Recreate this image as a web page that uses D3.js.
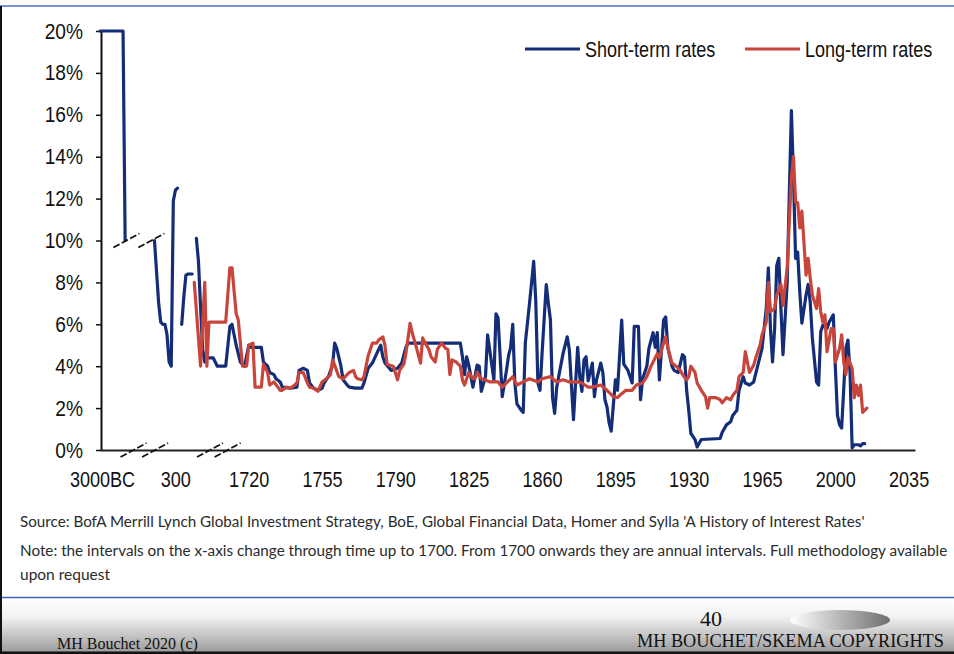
<!DOCTYPE html>
<html>
<head>
<meta charset="utf-8">
<script src="https://cdn.jsdelivr.net/npm/d3@7/dist/d3.min.js"></script>
<style>
  html, body { margin: 0; padding: 0; background: #fff; }
  svg { display: block; }
</style>
</head>
<body>
<svg id="chart" width="954" height="654"></svg>
<script>
// ---- Data -------------------------------------------------------------
// Category axis: the first 50 slots hold the pre-1700 periods (uneven
// intervals), then one slot per year from 1700 onwards.
const FIRST_YEAR = 1700;
const FIRST_YEAR_SLOT = 50;
const LAST_SLOT = 389;
const LABEL_STEP = 35;
const tickLabels = ["3000BC", "300", "1720", "1755", "1790", "1825", "1860",
                    "1895", "1930", "1965", "2000", "2035"];
const yTicks = [0, 2, 4, 6, 8, 10, 12, 14, 16, 18, 20];

// Pre-1700 periods: [slot, rate %]; null marks a gap in the series.
const ancientShort = [
  [0, 20], [11, 20], [12, 10], null,
  [26, 10], [27, 8.5], [28, 7], [29, 6.1], [30, 6.0], [31, 6.0], [32, 5.5],
  [33, 4.2], [34, 4.0], [35, 11.9], [36, 12.4], [37, 12.5], null,
  [39, 6.0], [40, 7.3], [41, 8.35], [42, 8.4], [44, 8.4], null,
  [46, 10.1], [47, 9.0], [48, 6.8], [49, 4.8]
];
const ancientLong = [[45, 8.0], [48, 4.0]];

// Annual observations from 1700: [year, rate %]
const shortRates = [
  [1700,4.2],[1701,4.4],[1704,4.4],[1706,4.0],[1710,4.0],[1712,5.9],[1713,6.0],
  [1715,5.0],[1717,4.2],[1719,4.0],[1721,5.0],[1722,4.9],[1727,4.9],[1728,4.2],
  [1730,4.0],[1731,3.7],[1733,3.6],[1734,3.4],[1736,3.25],[1737,3.0],[1741,2.95],
  [1744,3.0],[1745,3.8],[1747,3.9],[1749,3.8],[1750,3.2],[1752,2.95],[1754,2.85],
  [1756,2.95],[1757,3.2],[1759,3.5],[1761,4.05],[1762,5.1],[1763,4.85],[1765,4.0],
  [1766,3.35],[1768,3.1],[1769,3.0],[1772,2.95],[1775,2.95],[1776,3.2],[1778,3.9],
  [1780,4.15],[1783,4.8],[1784,5.0],[1785,4.45],[1786,4.15],[1789,3.8],[1792,3.9],
  [1794,4.15],[1796,4.9],[1797,5.1],[1822,5.1],[1823,4.45],[1824,3.6],[1825,4.45],
  [1826,4.05],[1828,3.0],[1830,4.05],[1831,4.0],[1832,2.8],[1834,3.5],[1835,5.5],
  [1836,4.8],[1838,3.35],[1839,6.5],[1840,6.3],[1842,2.55],[1844,3.8],[1845,4.5],
  [1846,4.9],[1847,6.0],[1848,3.2],[1849,2.2],[1851,1.9],[1852,1.8],[1853,5.1],
  [1855,7.0],[1856,8.0],[1857,9.0],[1858,7.1],[1859,3.2],[1860,2.85],[1861,4.6],
  [1863,7.9],[1864,7.0],[1865,6.2],[1866,2.5],[1867,1.75],[1868,3.0],[1871,4.6],
  [1872,5.0],[1873,5.4],[1874,4.8],[1876,1.45],[1877,3.2],[1878,4.9],[1879,3.5],
  [1880,2.8],[1881,4.3],[1882,4.45],[1883,3.3],[1885,4.15],[1886,2.55],[1887,3.35],
  [1889,4.15],[1890,3.7],[1891,2.4],[1892,2.05],[1893,1.3],[1894,0.9],[1896,3.35],
  [1897,2.85],[1898,4.5],[1899,6.2],[1900,4.1],[1902,3.8],[1904,3.2],[1905,5.9],
  [1907,5.9],[1908,2.4],[1909,3.4],[1911,4.0],[1912,4.85],[1914,5.6],[1915,4.9],
  [1916,5.6],[1917,3.35],[1919,6.2],[1920,6.35],[1921,4.9],[1923,4.0],[1924,3.8],
  [1926,3.7],[1928,4.55],[1929,4.45],[1930,2.85],[1931,1.9],[1932,0.8],[1934,0.5],
  [1935,0.15],[1937,0.5],[1946,0.55],[1947,0.85],[1949,1.2],[1951,1.35],[1952,1.65],
  [1954,1.9],[1955,2.85],[1957,3.5],[1958,3.2],[1960,3.1],[1962,3.25],[1964,4.05],
  [1966,4.85],[1967,5.8],[1968,6.75],[1969,8.7],[1970,5.8],[1971,4.2],[1972,5.8],
  [1973,8.8],[1974,9.15],[1975,6.75],[1976,4.55],[1978,8.0],[1979,12.2],[1980,16.2],
  [1981,13.0],[1982,9.15],[1983,9.45],[1984,7.55],[1985,6.05],[1987,7.4],[1988,7.9],
  [1989,7.05],[1990,5.35],[1992,3.25],[1993,3.1],[1994,5.65],[1995,5.95],[1997,5.8],
  [1998,6.1],[2000,6.45],[2001,3.9],[2002,1.65],[2003,1.2],[2004,1.05],[2006,4.85],
  [2007,5.25],[2008,3.7],[2009,0.1],[2010,0.25],[2012,0.25],[2013,0.2],[2014,0.3],
  [2015,0.3]
];

const longRates = [
  [1700,8.0],[1701,4.0],[1702,6.1],[1710,6.1],[1712,8.7],[1713,8.7],[1715,6.5],
  [1716,6.2],[1718,4.0],[1720,4.0],[1721,5.0],[1723,5.1],[1724,3.0],[1727,3.0],
  [1728,4.1],[1730,3.7],[1731,3.1],[1733,3.25],[1736,2.85],[1737,2.85],[1739,3.0],
  [1741,2.95],[1744,3.2],[1745,3.7],[1747,3.7],[1749,3.2],[1750,3.0],[1752,2.95],
  [1754,2.8],[1756,3.25],[1758,3.4],[1760,3.6],[1761,4.3],[1762,4.05],[1764,3.5],
  [1766,3.4],[1769,3.7],[1771,3.8],[1772,3.5],[1773,3.4],[1775,3.35],[1776,3.5],
  [1778,4.5],[1779,4.8],[1780,5.1],[1782,5.1],[1783,5.25],[1785,5.4],[1786,5.0],
  [1787,4.1],[1788,4.05],[1790,4.0],[1792,3.35],[1793,3.8],[1795,4.1],[1796,4.6],
  [1798,6.05],[1799,5.6],[1801,4.9],[1803,4.15],[1804,5.35],[1805,5.15],[1807,4.8],
  [1808,4.45],[1810,4.2],[1811,4.8],[1813,5.1],[1815,4.85],[1816,4.8],[1817,3.6],
  [1818,4.3],[1820,4.2],[1822,4.0],[1823,3.35],[1824,3.1],[1826,3.7],[1828,3.4],
  [1829,3.4],[1830,3.7],[1832,3.4],[1834,3.35],[1836,3.25],[1840,3.25],[1842,3.0],
  [1844,3.2],[1847,3.5],[1849,3.1],[1852,3.25],[1855,3.4],[1859,3.25],[1861,3.4],
  [1865,3.5],[1868,3.25],[1871,3.35],[1874,3.25],[1878,3.25],[1880,3.2],[1883,3.0],
  [1885,3.0],[1889,3.1],[1892,2.85],[1895,2.55],[1897,2.5],[1898,2.6],[1901,2.85],
  [1904,2.85],[1906,3.1],[1909,3.2],[1911,3.5],[1913,4.0],[1916,4.6],[1917,4.4],
  [1919,5.1],[1920,5.4],[1921,4.9],[1923,4.15],[1925,4.0],[1927,3.8],[1928,3.6],
  [1930,3.35],[1931,3.5],[1932,4.0],[1934,3.7],[1935,3.2],[1937,2.85],[1939,2.55],
  [1940,2.0],[1941,2.5],[1944,2.5],[1946,2.4],[1947,2.25],[1949,2.5],[1951,2.4],
  [1952,2.6],[1954,2.85],[1955,3.5],[1957,3.7],[1958,4.7],[1959,4.2],[1960,3.7],
  [1962,4.05],[1963,4.4],[1965,5.0],[1966,5.5],[1968,6.1],[1969,8.0],[1970,6.6],
  [1972,6.75],[1973,7.4],[1975,7.9],[1976,6.9],[1978,8.7],[1979,10.9],[1980,13.0],
  [1981,14.0],[1982,11.85],[1983,11.8],[1984,10.6],[1985,11.4],[1986,9.9],[1987,8.35],
  [1988,9.15],[1989,8.2],[1990,7.4],[1992,6.75],[1993,7.7],[1994,6.6],[1995,6.1],
  [1996,6.45],[1997,4.7],[1999,5.8],[2000,5.8],[2001,4.2],[2003,4.85],[2004,5.5],
  [2005,4.2],[2006,3.6],[2007,4.4],[2009,3.9],[2010,2.5],[2011,3.1],[2012,2.6],
  [2013,3.1],[2014,1.8],[2016,2.0]
];

// Axis-break markers: [slot, rate level]
const breakMarks = [[12.6, 10], [24.5, 10], [16, 0], [26.3, 0], [52.5, 0], [60.9, 0]];

const series = [
  { name: "Short-term rates", color: "#132d78", ancient: ancientShort, annual: shortRates },
  { name: "Long-term rates",  color: "#c8453b", ancient: ancientLong,  annual: longRates }
];

const sourceLines = [
  "Source: BofA Merrill Lynch Global Investment Strategy, BoE, Global Financial Data, Homer and Sylla 'A History of Interest Rates'",
  "Note: the intervals on the x-axis change through time up to 1700. From 1700 onwards they are annual intervals. Full methodology available",
  "upon request"
];

// ---- Drawing ------------------------------------------------------------
const svg = d3.select("#chart");
const W = 954, H = 654;
const plot = { left: 100, right: 915, top: 31, bottom: 450 };

const x = d3.scaleLinear().domain([0, LAST_SLOT]).range([plot.left, plot.right]);
const y = d3.scaleLinear().domain([0, 20]).range([plot.bottom, plot.top]);
const slotOfYear = yr => FIRST_YEAR_SLOT + (yr - FIRST_YEAR);

// Narrow the chart lettering (condensed sans look)
function condense(sel, k) {
  sel.each(function () {
    const w = this.getComputedTextLength();
    d3.select(this).attr("textLength", w * k).attr("lengthAdjust", "spacingAndGlyphs");
  });
}

// Slide frame: top rule, left border, footer band
const defs = svg.append("defs");
const band = defs.append("linearGradient").attr("id", "band")
  .attr("x1", 0).attr("y1", 0).attr("x2", 0).attr("y2", 1);
band.append("stop").attr("offset", "0%").attr("stop-color", "#ffffff");
band.append("stop").attr("offset", "35%").attr("stop-color", "#f2f2f2");
band.append("stop").attr("offset", "100%").attr("stop-color", "#9c9c9c");
const lens = defs.append("linearGradient").attr("id", "lens")
  .attr("x1", 0).attr("y1", 0).attr("x2", 1).attr("y2", 0);
lens.append("stop").attr("offset", "0%").attr("stop-color", "#ffffff");
lens.append("stop").attr("offset", "100%").attr("stop-color", "#6e6e6e");

svg.append("rect").attr("x", 0).attr("y", 598).attr("width", W).attr("height", 54)
  .attr("fill", "url(#band)");
svg.append("rect").attr("x", 0).attr("y", 651.5).attr("width", W).attr("height", 3)
  .attr("fill", "#111");
svg.append("line").attr("x1", 0).attr("x2", W).attr("y1", 6).attr("y2", 6)
  .attr("stroke", "#4a72c2").attr("stroke-width", 1.5);
svg.append("line").attr("x1", 0).attr("x2", W).attr("y1", 597.5).attr("y2", 597.5)
  .attr("stroke", "#3d64b8").attr("stroke-width", 1.5);
svg.append("line").attr("x1", 1).attr("x2", 1).attr("y1", 6).attr("y2", H)
  .attr("stroke", "#111").attr("stroke-width", 2);

// Axes
const axisFont = "'Liberation Sans', Arial, sans-serif";
const NARROW = 0.82;

const yAxis = svg.append("g").attr("transform", `translate(${plot.left + 1},0)`)
  .call(d3.axisLeft(y).tickValues(yTicks).tickFormat(d => d + "%")
    .tickSize(5).tickSizeOuter(0).tickPadding(13));
yAxis.select(".domain").attr("stroke", "#111").attr("stroke-width", 2);
yAxis.selectAll(".tick line").attr("stroke", "#111").attr("stroke-width", 1.5);
yAxis.selectAll(".tick text").attr("font-family", axisFont).attr("font-size", 22)
  .attr("fill", "#111").call(condense, NARROW + 0.05);

const xAxis = svg.append("g").attr("transform", `translate(0,${plot.bottom})`)
  .call(d3.axisBottom(x).tickValues(tickLabels.map((_, i) => i * LABEL_STEP))
    .tickFormat((d, i) => tickLabels[i]).tickSize(0).tickSizeOuter(0).tickPadding(21));
xAxis.select(".domain").attr("stroke", "#222").attr("stroke-width", 2.2);
xAxis.selectAll(".tick text").attr("font-family", axisFont).attr("font-size", 22)
  .attr("fill", "#111").attr("dx", 2).call(condense, NARROW);

// Series lines
const line = d3.line()
  .defined(d => d !== null)
  .x(d => x(d[0]))
  .y(d => y(d[1]));

series.forEach(s => {
  const pts = s.ancient.concat(s.annual.map(([yr, v]) => [slotOfYear(yr), v]));
  svg.append("path").datum(pts)
    .attr("fill", "none")
    .attr("stroke", s.color)
    .attr("stroke-width", 3.2)
    .attr("stroke-linejoin", "round")
    .attr("stroke-linecap", "round")
    .attr("d", line);
});

// Axis-break markers
svg.append("g").selectAll("line").data(breakMarks).join("line")
  .attr("x1", d => x(d[0]) - 13).attr("y1", d => y(d[1]) + 7)
  .attr("x2", d => x(d[0]) + 13).attr("y2", d => y(d[1]) - 7)
  .attr("stroke", "#111").attr("stroke-width", 1.8)
  .attr("stroke-dasharray", "7,2.5");

// Legend (labels drawn in a horizontally condensed group)
const legend = svg.append("g").attr("transform", "translate(525,49)");
const legendX = [0, 220];
series.forEach((s, i) => {
  const g = legend.append("g").attr("transform", `translate(${legendX[i]},0)`);
  g.append("line").attr("x1", 0).attr("x2", 55).attr("y1", 0).attr("y2", 0)
    .attr("stroke", s.color).attr("stroke-width", 3);
  g.append("g").attr("transform", `translate(60,0) scale(${NARROW},1)`)
    .append("text").attr("x", 0).attr("y", 0).attr("dy", "0.35em")
    .attr("font-family", axisFont).attr("font-size", 22).attr("fill", "#111")
    .text(s.name);
});

// Source notes, each line fitted to its column width
const noteFont = "Lato, 'Open Sans', sans-serif";
const noteY = [527, 556, 580];
const noteLen = [845, 928, 90];
sourceLines.forEach((t, i) => {
  const g = svg.append("g");
  const txt = g.append("text").attr("x", 0).attr("y", 0)
    .attr("font-family", noteFont).attr("font-size", 16).attr("fill", "#2b2b2b")
    .text(t);
  const k = noteLen[i] / txt.node().getComputedTextLength();
  g.attr("transform", `translate(20,${noteY[i]}) scale(${k},1)`);
});

// Slide footer
const serif = "'Liberation Serif', 'Times New Roman', serif";
svg.append("ellipse").attr("cx", 840).attr("cy", 620).attr("rx", 50).attr("ry", 10)
  .attr("fill", "url(#lens)");
svg.append("text").attr("x", 57).attr("y", 649).attr("font-family", serif)
  .attr("font-size", 16).attr("fill", "#111").text("MH Bouchet 2020 (c)");
svg.append("text").attr("x", 700).attr("y", 626).attr("font-family", serif)
  .attr("font-size", 22).attr("fill", "#111").text("40");
svg.append("g").attr("transform", "translate(637,647) scale(0.96,1)")
  .append("text").attr("x", 0).attr("y", 0).attr("font-family", serif)
  .attr("font-size", 19).attr("fill", "#111")
  .text("MH BOUCHET/SKEMA COPYRIGHTS");
</script>
</body>
</html>
